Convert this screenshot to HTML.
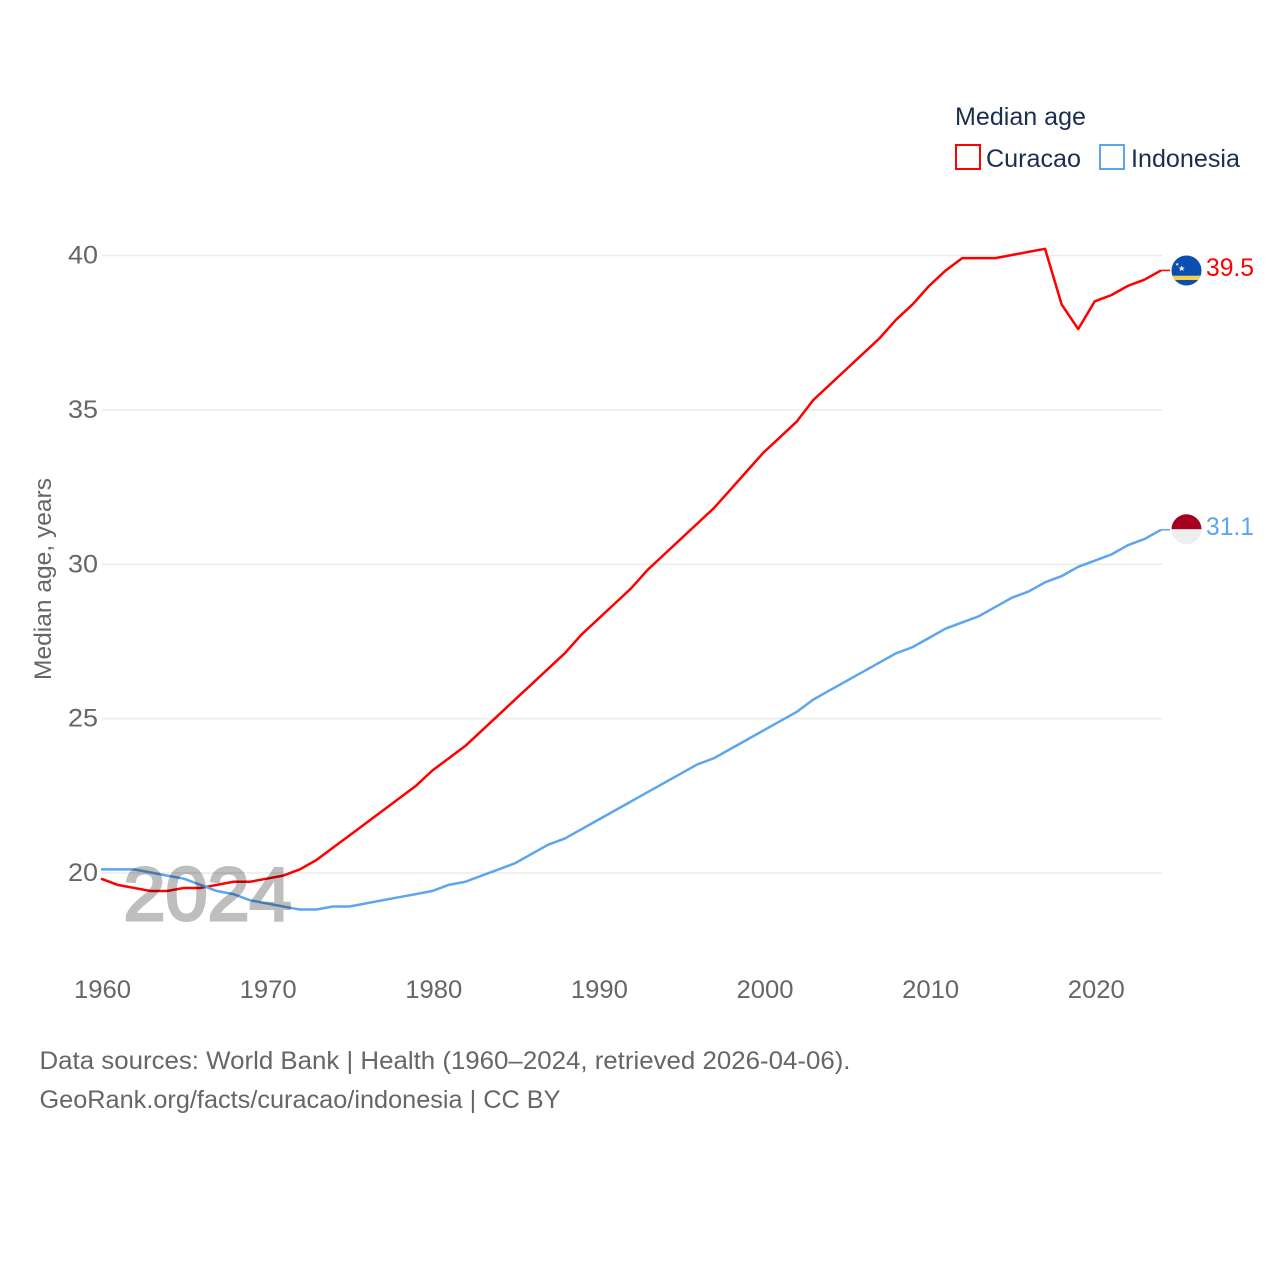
<!DOCTYPE html>
<html lang="en">
<head>
<meta charset="utf-8">
<title>Median age: Curacao and Indonesia</title>
<style>
html,body{margin:0;padding:0;background:#fff}
svg{display:block}
text{font-family:"Liberation Sans",sans-serif}
</style>
</head>
<body>
<svg id="chart" xmlns="http://www.w3.org/2000/svg" width="1280" height="1280" viewBox="0 0 1280 1280">
  <defs>
    <clipPath id="flag-clip-a"><circle cx="1186.5" cy="270.5" r="15"/></clipPath>
    <clipPath id="flag-clip-b"><circle cx="1186.5" cy="529.3" r="15"/></clipPath>
  </defs>
  <g id="grid"></g>
  <g id="yticks"></g>
  <g id="xticks"></g>
  <text transform="translate(51 579) rotate(-90)" text-anchor="middle" font-size="24" fill="#666" textLength="202" lengthAdjust="spacingAndGlyphs">Median age, years</text>
  <g id="series"></g>
  <text x="123.5" y="920" font-size="75" font-weight="400" fill="#000" stroke="#000" stroke-width="3" opacity="0.25" textLength="168" lengthAdjust="spacingAndGlyphs">2024</text>

  <g clip-path="url(#flag-clip-a)">
    <rect x="1171" y="255" width="31" height="31" fill="#0a4fb0"/>
    <rect x="1171" y="275.7" width="31" height="4.3" fill="#f5cf4a"/>
    <polygon points="1181.7,265.2 1182.5,267.5 1184.9,267.5 1183,268.9 1183.7,271.2 1181.7,269.8 1179.7,271.2 1180.4,268.9 1178.5,267.5 1180.9,267.5" fill="#eef2f7"/>
    <polygon points="1177.2,262.4 1177.7,263.7 1179,263.7 1178,264.5 1178.4,265.8 1177.2,265 1176,265.8 1176.4,264.5 1175.4,263.7 1176.7,263.7" fill="#eef2f7"/>
  </g>
  <g clip-path="url(#flag-clip-b)">
    <rect x="1171" y="514" width="31" height="15.3" fill="#a50021"/>
    <rect x="1171" y="529.3" width="31" height="15.5" fill="#eeeeee"/>
  </g>
  <text id="val-a" x="1206" y="276" font-size="25" fill="#ff0000" textLength="48" lengthAdjust="spacingAndGlyphs"></text>
  <text id="val-b" x="1206" y="535" font-size="25" fill="#5da5ec" textLength="48" lengthAdjust="spacingAndGlyphs"></text>

  <g>
    <text x="955" y="125" font-size="25" fill="#1a2e4f" textLength="131" lengthAdjust="spacingAndGlyphs">Median age</text>
    <rect x="956" y="145" width="24" height="24" fill="none" stroke="#ff0000" stroke-width="2"/>
    <text x="986" y="167" font-size="25" fill="#1a2e4f" textLength="95" lengthAdjust="spacingAndGlyphs">Curacao</text>
    <rect x="1100" y="145" width="24" height="24" fill="none" stroke="#5da5ec" stroke-width="2"/>
    <text x="1131" y="167" font-size="25" fill="#1a2e4f" textLength="109" lengthAdjust="spacingAndGlyphs">Indonesia</text>
  </g>

  <text x="39.5" y="1069" font-size="25" fill="#666" textLength="811" lengthAdjust="spacingAndGlyphs">Data sources: World Bank | Health (1960–2024, retrieved 2026-04-06).</text>
  <text x="39.5" y="1108" font-size="25" fill="#666" textLength="521" lengthAdjust="spacingAndGlyphs">GeoRank.org/facts/curacao/indonesia | CC BY</text>
</svg>
<script>
const firstYear = 1960;
const xTickLabels = [1960, 1970, 1980, 1990, 2000, 2010, 2020];
const yTickLabels = [20, 25, 30, 35, 40];
const curacao = [19.8,19.6,19.5,19.4,19.4,19.5,19.5,19.6,19.7,19.7,19.8,19.9,20.1,20.4,20.8,21.2,21.6,22.0,22.4,22.8,23.3,23.7,24.1,24.6,25.1,25.6,26.1,26.6,27.1,27.7,28.2,28.7,29.2,29.8,30.3,30.8,31.3,31.8,32.4,33.0,33.6,34.1,34.6,35.3,35.8,36.3,36.8,37.3,37.9,38.4,39.0,39.5,39.9,39.9,39.9,40.0,40.1,40.2,38.4,37.6,38.5,38.7,39.0,39.2,39.5];
const indonesia = [20.1,20.1,20.1,20.0,19.9,19.8,19.6,19.4,19.3,19.1,19.0,18.9,18.8,18.8,18.9,18.9,19.0,19.1,19.2,19.3,19.4,19.6,19.7,19.9,20.1,20.3,20.6,20.9,21.1,21.4,21.7,22.0,22.3,22.6,22.9,23.2,23.5,23.7,24.0,24.3,24.6,24.9,25.2,25.6,25.9,26.2,26.5,26.8,27.1,27.3,27.6,27.9,28.1,28.3,28.6,28.9,29.1,29.4,29.6,29.9,30.1,30.3,30.6,30.8,31.1];

const NS = 'http://www.w3.org/2000/svg';
function xScale(year) { return 101 + (year - 1960) * (1060 / 64); }
function yScale(v) { return 872.5 - (v - 20) * (617.5 / 20); }

const gridGroup = document.getElementById('grid');
const yGroup = document.getElementById('yticks');
const xGroup = document.getElementById('xticks');
const seriesGroup = document.getElementById('series');

yTickLabels.forEach(function (v) {
  const line = document.createElementNS(NS, 'line');
  
  
  line.setAttribute('x1', 102);
  line.setAttribute('x2', 1162);
  line.setAttribute('y1', yScale(v) + 0.5);
  line.setAttribute('y2', yScale(v) + 0.5);
  line.setAttribute('stroke', '#ebebeb');
  line.setAttribute('stroke-width', '1.5');
  gridGroup.appendChild(line);

  const t = document.createElementNS(NS, 'text');
  
  
  t.setAttribute('x', 98);
  t.setAttribute('y', yScale(v) + 8.5);
  t.setAttribute('text-anchor', 'end');
  t.setAttribute('font-size', '25');
  t.setAttribute('fill', '#666');
  t.setAttribute('textLength', '30');
  t.setAttribute('lengthAdjust', 'spacingAndGlyphs');
  t.textContent = String(v);
  yGroup.appendChild(t);
});

xTickLabels.forEach(function (y) {
  const t = document.createElementNS(NS, 'text');
  
  
  t.setAttribute('x', xScale(y) + 1.5);
  t.setAttribute('y', 998);
  t.setAttribute('text-anchor', 'middle');
  t.setAttribute('font-size', '25');
  t.setAttribute('fill', '#666');
  t.setAttribute('textLength', '57');
  t.setAttribute('lengthAdjust', 'spacingAndGlyphs');
  t.textContent = String(y);
  xGroup.appendChild(t);
});

function linePath(values) {
  return values.map(function (v, i) {
    return (i ? 'L' : 'M') + xScale(firstYear + i).toFixed(2) + ' ' + yScale(v).toFixed(2);
  }).join(' ');
}

function stubPath(values) {
  const last = values[values.length - 1];
  const y = yScale(last).toFixed(2);
  return 'M' + xScale(firstYear + values.length - 1).toFixed(2) + ' ' + y + ' L1170 ' + y;
}

const curacaoLine = document.createElementNS(NS, 'path');


curacaoLine.setAttribute('d', linePath(curacao));
curacaoLine.setAttribute('fill', 'none');
curacaoLine.setAttribute('stroke', '#ff0000');
curacaoLine.setAttribute('stroke-width', '2.5');
curacaoLine.setAttribute('stroke-linejoin', 'round');
seriesGroup.appendChild(curacaoLine);

const curacaoStub = document.createElementNS(NS, 'path');


curacaoStub.setAttribute('d', stubPath(curacao));
curacaoStub.setAttribute('fill', 'none');
curacaoStub.setAttribute('stroke', '#ff0000');
curacaoStub.setAttribute('stroke-width', '1.5');
seriesGroup.appendChild(curacaoStub);

const indonesiaLine = document.createElementNS(NS, 'path');


indonesiaLine.setAttribute('d', linePath(indonesia));
indonesiaLine.setAttribute('fill', 'none');
indonesiaLine.setAttribute('stroke', '#5da5ec');
indonesiaLine.setAttribute('stroke-width', '2.5');
indonesiaLine.setAttribute('stroke-linejoin', 'round');
seriesGroup.appendChild(indonesiaLine);

const indonesiaStub = document.createElementNS(NS, 'path');


indonesiaStub.setAttribute('d', stubPath(indonesia));
indonesiaStub.setAttribute('fill', 'none');
indonesiaStub.setAttribute('stroke', '#5da5ec');
indonesiaStub.setAttribute('stroke-width', '1.5');
seriesGroup.appendChild(indonesiaStub);

document.getElementById('val-a').textContent = curacao[curacao.length - 1].toFixed(1);
document.getElementById('val-b').textContent = indonesia[indonesia.length - 1].toFixed(1);
</script>
</body>
</html>
